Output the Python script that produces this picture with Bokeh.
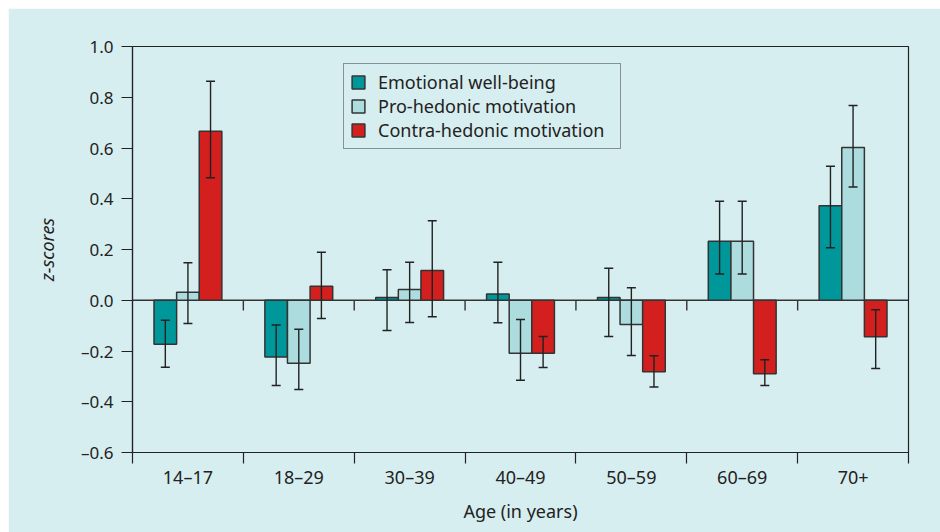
import numpy as np
from bokeh.plotting import figure
from bokeh.models import (ColumnDataSource, Whisker, TeeHead, FixedTicker,
                          CustomJSTickFormatter, Span, Range1d)
from bokeh.embed import file_html
from bokeh.resources import INLINE

# ---- data ----
age_groups = ["14–17", "18–29", "30–39", "40–49", "50–59", "60–69", "70+"]
series_names = ["Emotional well-being", "Pro-hedonic motivation", "Contra-hedonic motivation"]

wellbeing    = [-0.173, -0.224, 0.011, 0.025, 0.011, 0.233, 0.372]
wellbeing_lo = [-0.264, -0.336, -0.119, -0.089, -0.143, 0.103, 0.207]
wellbeing_hi = [-0.079, -0.098, 0.120, 0.150, 0.126, 0.390, 0.528]

prohedonic    = [0.032, -0.248, 0.042, -0.209, -0.096, 0.233, 0.602]
prohedonic_lo = [-0.092, -0.352, -0.088, -0.315, -0.218, 0.103, 0.446]
prohedonic_hi = [0.148, -0.114, 0.150, -0.076, 0.049, 0.390, 0.767]

contrahedonic    = [0.666, 0.055, 0.117, -0.209, -0.282, -0.290, -0.144]
contrahedonic_lo = [0.483, -0.072, -0.065, -0.265, -0.342, -0.336, -0.269]
contrahedonic_hi = [0.863, 0.189, 0.313, -0.143, -0.219, -0.234, -0.037]

y_ticks = [-0.6, -0.4, -0.2, 0.0, 0.2, 0.4, 0.6, 0.8, 1.0]

# ---- style ----
BG = "#d7eef0"
INK = "#222222"
EDGE = "#333333"
colors = ["#00979a", "#acdcde", "#d3201f"]
FONT = "Noto Sans"
BAR_W = 0.204
offsets = [-BAR_W, 0.0, BAR_W]

n = len(age_groups)
centers = np.arange(n) + 0.5
boundaries = np.arange(n + 1)

p = figure(width=932, height=524, output_backend="svg", toolbar_location=None,
           x_range=Range1d(0, n), y_range=Range1d(-0.6, 1.0))
p.margin = (8, 0, 0, 8)
p.min_border_left = 124
p.min_border_right = 32
p.min_border_top = 38
p.min_border_bottom = 80
p.background_fill_color = BG
p.border_fill_color = BG
p.outline_line_color = INK
p.outline_line_width = 1.2
p.xgrid.visible = False
p.ygrid.visible = False

# zero line
p.add_layout(Span(location=0, dimension="width", line_color=EDGE,
                  line_width=1.5, level="underlay"))
# small ticks on zero line at group boundaries
inner = boundaries[1:-1]
p.segment(x0=inner, y0=np.zeros(len(inner)), x1=inner, y1=np.full(len(inner), -0.04),
          line_color=EDGE, line_width=1.4)

series = [(wellbeing, wellbeing_lo, wellbeing_hi),
          (prohedonic, prohedonic_lo, prohedonic_hi),
          (contrahedonic, contrahedonic_lo, contrahedonic_hi)]

for (vals, lo, hi), off, col, name in zip(series, offsets, colors, series_names):
    src = ColumnDataSource(dict(x=centers + off, top=vals, lo=lo, hi=hi))
    p.vbar(x="x", top="top", bottom=0, width=BAR_W, source=src,
           fill_color=col, line_color=EDGE, line_width=1.5, legend_label=name)
    w = Whisker(source=src, base="x", upper="hi", lower="lo",
                line_color=INK, line_width=1.4, level="annotation",
                upper_head=TeeHead(size=9, line_color=INK, line_width=1.5),
                lower_head=TeeHead(size=9, line_color=INK, line_width=1.5))
    p.add_layout(w)

# x axis: labels at centers, ticks at group boundaries
xa = p.xaxis[0]
xa.ticker = FixedTicker(ticks=list(centers), minor_ticks=list(boundaries))
xa.major_label_overrides = {float(c): g for c, g in zip(centers, age_groups)}
xa.major_tick_line_color = None
xa.major_tick_out = 4
xa.major_tick_in = 0
xa.minor_tick_out = 11
xa.minor_tick_in = 0
xa.minor_tick_line_color = INK
xa.minor_tick_line_width = 1.2
xa.major_label_standoff = 1
xa.axis_line_color = INK
xa.axis_line_width = 1.2
xa.axis_label = "Age (in years)"
xa.axis_label_standoff = 7
xa.axis_label_text_font = FONT
xa.axis_label_text_font_size = "18px"
xa.axis_label_text_font_style = "normal"
xa.axis_label_text_color = INK
xa.major_label_text_font = FONT
xa.major_label_text_font_size = "18px"
xa.major_label_text_color = INK

ya = p.yaxis[0]
ya.ticker = FixedTicker(ticks=y_ticks, minor_ticks=[])
ya.formatter = CustomJSTickFormatter(code="return tick.toFixed(1).replace('-', '\u2013');")
ya.major_tick_out = 11
ya.major_tick_in = 0
ya.major_tick_line_color = INK
ya.major_tick_line_width = 1.2
ya.major_label_standoff = 8
ya.axis_line_color = INK
ya.axis_line_width = 1.2
ya.axis_label = "z-scores"
ya.axis_label_standoff = 19
ya.axis_label_text_font = FONT
ya.axis_label_text_font_size = "18px"
ya.axis_label_text_font_style = "italic"
ya.axis_label_text_color = INK
ya.major_label_text_font = FONT
ya.major_label_text_font_size = "17px"
ya.major_label_text_color = INK

# legend
lg = p.legend[0]
lg.location = (211, 303)
lg.background_fill_color = BG
lg.background_fill_alpha = 1.0
lg.border_line_color = EDGE
lg.border_line_width = 1.2
lg.label_text_font = FONT
lg.label_text_font_size = "18px"
lg.label_text_color = INK
lg.glyph_width = 16
lg.glyph_height = 16
lg.label_standoff = 12
lg.padding = 6
lg.spacing = 0
lg.label_height = 22
lg.label_width = 236
lg.margin = 0

open("out.html", "w").write(file_html(p, INLINE))
